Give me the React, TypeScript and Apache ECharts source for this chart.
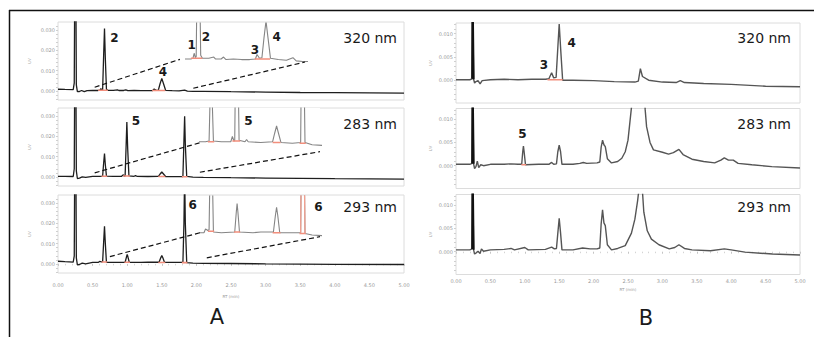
import React, { useEffect, useRef } from "react";
import * as echarts from "echarts";

// ---------- Panel A chromatograms (RT min, UV) ----------
const traceA320: [number, number][] = [
  [0, 0.0008], [0.1, 0.0007], [0.22, 0.0006], [0.235, 0.004], [0.243, 0.06], [0.257, 0.06], [0.265, 0.003],
  [0.28, -0.0004], [0.31, -0.0003], [0.34, 0.0002], [0.38, -0.0004], [0.42, 0.0001], [0.5, 0.0002], [0.58, 0.0002],
  [0.605, 0.0003], [0.62, 0.0011], [0.635, 0.0004], [0.645, 0.0006], [0.66, 0.018], [0.672, 0.0308], [0.684, 0.016],
  [0.7, 0.0008], [0.72, 0.0003], [0.8, 0.0003], [0.86, 0.0005], [0.88, 0.0002], [0.95, 0.0002], [0.98, 0.0005],
  [1.01, 0.0001], [1.1, 0.0002], [1.2, 0.0001], [1.3, 0.0001], [1.37, 0.0002], [1.39, 0.0009], [1.42, 0.0003],
  [1.45, 0.0004], [1.475, 0.0035], [1.5, 0.0062], [1.525, 0.0035], [1.555, 0.0003], [1.65, 0.0001], [1.75, 0.0],
  [1.83, 0.0004], [1.87, -0.0001], [1.95, -0.0002], [2.1, -0.0002], [2.5, -0.0004], [3.0, -0.0006], [3.5, -0.0008],
  [4.0, -0.0009], [4.5, -0.001], [5.0, -0.0011],
];
const traceA283: [number, number][] = [
  [0, 0.0003], [0.1, 0.0003], [0.22, 0.0002], [0.235, 0.004], [0.243, 0.06], [0.257, 0.06], [0.265, 0.003],
  [0.28, -0.0008], [0.31, -0.0006], [0.35, 0.0], [0.4, -0.0002], [0.5, 0.0003], [0.6, 0.0003],
  [0.645, 0.0004], [0.66, 0.007], [0.672, 0.0115], [0.684, 0.006], [0.7, 0.0004], [0.8, 0.0003],
  [0.92, 0.0003], [0.94, 0.001], [0.96, 0.0004], [0.97, 0.0005], [0.985, 0.016], [0.995, 0.0271], [1.007, 0.014],
  [1.025, 0.0005], [1.1, 0.0003], [1.12, 0.0006], [1.14, 0.0003], [1.3, 0.0002],
  [1.45, 0.0003], [1.475, 0.0014], [1.5, 0.0024], [1.525, 0.0014], [1.555, 0.0002], [1.7, 0.0001],
  [1.805, 0.0002], [1.82, 0.018], [1.83, 0.0299], [1.84, 0.016], [1.86, 0.0002],
  [1.95, -0.0001], [2.1, -0.0002], [2.5, -0.0004], [3.0, -0.0006], [4.0, -0.0009], [5.0, -0.0011],
];
const traceA293: [number, number][] = [
  [0, 0.0013], [0.1, 0.0011], [0.22, 0.0009], [0.235, 0.004], [0.243, 0.06], [0.257, 0.06], [0.265, 0.003],
  [0.28, -0.0005], [0.31, -0.0003], [0.35, 0.0004], [0.4, 0.0], [0.5, 0.0007], [0.58, 0.0007],
  [0.6, 0.0012], [0.63, 0.001], [0.645, 0.0011], [0.66, 0.011], [0.672, 0.0185], [0.684, 0.01], [0.7, 0.0008],
  [0.8, 0.0007], [0.97, 0.0008], [0.99, 0.0035], [1.0, 0.0046], [1.01, 0.0035], [1.03, 0.0008],
  [1.2, 0.0007], [1.3, 0.0008], [1.46, 0.0008], [1.485, 0.003], [1.5, 0.0041], [1.515, 0.003], [1.54, 0.0007],
  [1.7, 0.0007], [1.805, 0.0007], [1.82, 0.02], [1.83, 0.045], [1.84, 0.02], [1.86, 0.0006],
  [1.95, 0.0004], [2.1, 0.0003], [2.5, 0.0002], [3.0, 0.0], [4.0, -0.0002], [5.0, -0.0003],
];

// ---------- Panel B chromatograms ----------
const traceB320: [number, number][] = [
  [0, 0.0001], [0.1, 0.0001], [0.2, 0.0001], [0.235, 0.0003], [0.241, 0.02], [0.249, 0.02], [0.256, 0.0002],
  [0.27, -0.0006], [0.29, -0.0003], [0.32, -0.0001], [0.35, -0.0008], [0.38, -0.0001], [0.5, 0.0001],
  [0.7, 0.0002], [0.9, 0.0001], [1.1, 0.0002], [1.3, 0.0002], [1.35, 0.0003], [1.39, 0.0016], [1.42, 0.0005],
  [1.455, 0.0006], [1.48, 0.007], [1.5, 0.0121], [1.52, 0.007], [1.55, 0.0], [1.7, 0.0], [2.0, -0.0001],
  [2.3, -0.0003], [2.6, -0.0004], [2.65, -0.0002], [2.68, 0.0025], [2.71, 0.0008], [2.8, 0.0], [3.0, -0.0004],
  [3.2, -0.0005], [3.26, -0.0001], [3.32, -0.0005], [3.6, -0.0007], [4.0, -0.0009], [4.5, -0.0013], [5.0, -0.0014],
];
const traceB283: [number, number][] = [
  [0, 0.0003], [0.2, 0.0003], [0.235, 0.0005], [0.241, 0.02], [0.249, 0.02], [0.256, 0.0004], [0.27, -0.0006],
  [0.29, -0.0002], [0.31, 0.001], [0.33, -0.0004], [0.36, 0.0002], [0.4, 0.0], [0.5, 0.0003], [0.7, 0.0003],
  [0.8, 0.0004], [0.9, 0.0003], [0.955, 0.0003], [0.97, 0.003], [0.98, 0.0042], [0.99, 0.003], [1.01, 0.0002],
  [1.2, 0.0003], [1.35, 0.0003], [1.39, 0.0007], [1.42, 0.0003], [1.46, 0.0004], [1.48, 0.003], [1.5, 0.0044],
  [1.52, 0.003], [1.54, 0.0003], [1.7, 0.0003], [1.8, 0.0005], [1.85, 0.0007], [1.9, 0.0005], [2.05, 0.0006],
  [2.09, 0.0008], [2.11, 0.004], [2.13, 0.0055], [2.15, 0.0045], [2.17, 0.0041], [2.2, 0.0015], [2.26, 0.0006],
  [2.35, 0.0009], [2.41, 0.0016], [2.46, 0.003], [2.5, 0.0055], [2.55, 0.0125], [2.62, 0.022], [2.68, 0.026],
  [2.72, 0.02], [2.75, 0.012], [2.77, 0.0084], [2.82, 0.005], [2.87, 0.0034], [3.0, 0.0029], [3.09, 0.0025],
  [3.16, 0.0028], [3.24, 0.0035], [3.3, 0.0024], [3.43, 0.0014], [3.6, 0.0009], [3.76, 0.0006], [3.85, 0.0012],
  [3.9, 0.0017], [3.96, 0.0012], [4.03, 0.0012], [4.1, 0.0005], [4.3, 0.0002], [4.59, -0.0002], [5.0, -0.0005],
];
const traceB293: [number, number][] = [
  [0, 0.0004], [0.2, 0.0004], [0.235, 0.0006], [0.241, 0.02], [0.249, 0.02], [0.256, 0.0004], [0.27, -0.0005],
  [0.29, -0.0003], [0.32, 0.0001], [0.35, -0.0004], [0.37, 0.0006], [0.4, 0.0001], [0.5, 0.0004], [0.7, 0.0005],
  [0.8, 0.0007], [0.85, 0.0004], [1.0, 0.0009], [1.05, 0.0004], [1.3, 0.0005], [1.39, 0.001], [1.43, 0.0006],
  [1.46, 0.0007], [1.48, 0.004], [1.5, 0.0072], [1.52, 0.004], [1.54, 0.0004], [1.7, 0.0004], [1.84, 0.0008],
  [1.95, 0.0006], [2.05, 0.0006], [2.09, 0.0008], [2.11, 0.006], [2.13, 0.009], [2.15, 0.0062], [2.17, 0.0056],
  [2.2, 0.0015], [2.26, 0.0004], [2.35, 0.0007], [2.46, 0.0013], [2.55, 0.004], [2.6, 0.007], [2.64, 0.011],
  [2.68, 0.016], [2.71, 0.013], [2.73, 0.0085], [2.78, 0.0045], [2.84, 0.0027], [2.95, 0.0015], [3.1, 0.0006],
  [3.18, 0.0009], [3.24, 0.0015], [3.32, 0.0007], [3.43, 0.0004], [3.7, 0.0002], [3.9, 0.0006], [4.0, 0.0004],
  [4.2, -0.0001], [4.6, -0.0005], [5.0, -0.0007],
];

// integration marks (red): [start RT, end RT, level]
const marksA320 = [[0.58, 0.72, 0.0003], [1.36, 1.55, 0.0002]];
const marksA283 = [[0.63, 0.71, 0.0003], [0.94, 1.04, 0.0004], [1.45, 1.55, 0.0002], [1.79, 1.87, 0.0001]];
const marksA293 = [[0.63, 0.71, 0.0009], [0.96, 1.04, 0.0008], [1.45, 1.55, 0.0007], [1.79, 1.87, 0.0006]];
const marksB320 = [[1.33, 1.55, 0.0001]];
const marksB283 = [[0.95, 1.02, 0.0002]];
// RT window of the highlighted peak 6 in the 293 nm inset, and of the injection spike
const peak6Window = [1.79, 1.87];
const spikeWindow = [0.23, 0.26];

// axis ticks / labels
const yLabelsA = [0, 0.01, 0.02, 0.03];
const yTicksA = [-0.004, -0.002, 0, 0.002, 0.004, 0.006, 0.008, 0.01, 0.012, 0.014, 0.016, 0.018, 0.02, 0.022, 0.024, 0.026, 0.028, 0.03, 0.032];
const yLabelsB = [0, 0.005, 0.01];
const yTicksB = [-0.004, -0.003, -0.002, -0.001, 0, 0.001, 0.002, 0.003, 0.004, 0.005, 0.006, 0.007, 0.008, 0.009, 0.01, 0.011, 0.012];
const wavelengths = ["320 nm", "283 nm", "293 nm"];
const panelLetters = ["A", "B"];

// zoom connectors: main grid point -> inset grid point
const connectors = [
  { g1: 0, p1: [0.53, 0.0018], g2: 6, p2: [0.446, 0.00014] },
  { g1: 0, p1: [1.955, 0.0013], g2: 6, p2: [1.978, -0.00029] },
  { g1: 1, p1: [0.53, 0.002], g2: 7, p2: [0.53, 0.00017] },
  { g1: 1, p1: [2.05, 0.0023], g2: 7, p2: [2.05, -0.00103] },
  { g1: 2, p1: [0.75, 0.0036], g2: 8, p2: [0.53, 0.0007] },
  { g1: 2, p1: [2.15, 0.003], g2: 8, p2: [2.05, 0.00017] },
];

const FONT = "DejaVu Sans";

function markData(segs: number[][]) {
  const out: any[] = [];
  segs.forEach(([a, b, v]) => {
    out.push([a, v], [b, v], [b, "-"]);
  });
  return out;
}
const windowOf = (d: [number, number][], w: number[]) => d.filter((p) => p[0] >= w[0] && p[0] <= w[1]);

export default function App() {
  const ref = useRef<HTMLDivElement>(null);
  useEffect(() => {
    document.body.style.margin = "0";
    const chart = echarts.init(ref.current!, null, { renderer: "svg" });

    const gridsMain = [
      { left: 58, top: 22, width: 346, height: 78 },
      { left: 58, top: 108, width: 346, height: 78 },
      { left: 58, top: 195, width: 346, height: 78 },
      { left: 456, top: 23, width: 344, height: 80 },
      { left: 456, top: 108.5, width: 344, height: 80 },
      { left: 456, top: 194.5, width: 344, height: 80 },
    ].map((g) => ({ ...g, show: true, borderColor: "#dcdcdc", borderWidth: 1, backgroundColor: "#fff" }));
    const gridsInset = [
      { left: 186, top: 23, width: 120, height: 42 },
      { left: 200, top: 108, width: 120, height: 44 },
      { left: 200, top: 196, width: 120, height: 44 },
    ].map((g) => ({ ...g, show: true, borderWidth: 0, backgroundColor: "#fff" }));

    const mkX = (gi: number, showLab: boolean, margin: number, nameGap: number) => ({
      type: "value", gridIndex: gi, min: 0, max: 5, interval: 0.5,
      axisLine: { show: false }, splitLine: { show: false },
      axisTick: { show: showLab, length: 2, lineStyle: { color: "#c4c4c4" } },
      minorTick: { show: showLab, splitNumber: 5, length: 1.5, lineStyle: { color: "#d4d4d4" } },
      axisLabel: { show: showLab, fontSize: 5, color: "#999", margin, fontFamily: FONT, formatter: (v: number) => v.toFixed(2) },
      name: showLab ? "RT (min)" : "", nameLocation: "middle", nameGap,
      nameTextStyle: { fontSize: 4, color: "#999", fontFamily: FONT },
    });
    const mkY = (gi: number, min: number, max: number, labels: number[], ticks: number[], nameGap: number) => ({
      type: "value", gridIndex: gi, min, max,
      axisLine: { show: false }, splitLine: { show: false },
      axisTick: { show: true, customValues: ticks, length: 2, lineStyle: { color: "#cfcfcf" } },
      axisLabel: { customValues: labels, fontSize: 5, color: "#999", margin: 3, fontFamily: FONT, formatter: (v: number) => v.toFixed(3) },
      name: "UV", nameLocation: "middle", nameGap, nameRotate: 90,
      nameTextStyle: { fontSize: 4, color: "#aaa", fontFamily: FONT },
    });
    const mkHidden = (gi: number, min: number, max: number) => ({
      type: "value", gridIndex: gi, min, max, show: false, splitLine: { show: false },
    });

    const xAxis = [
      mkX(0, false, 9, 21), mkX(1, false, 9, 21), mkX(2, true, 9, 21),
      mkX(3, false, 4, 13), mkX(4, false, 4, 13), mkX(5, true, 4, 13),
      mkHidden(6, 0.52, 1.99), mkHidden(7, 0.53, 2.05), mkHidden(8, 0.53, 2.05),
    ];
    const yAxis = [
      mkY(0, -0.0045, 0.034, yLabelsA, yTicksA, 27),
      mkY(1, -0.0045, 0.034, yLabelsA, yTicksA, 27),
      mkY(2, -0.0045, 0.034, yLabelsA, yTicksA, 27),
      mkY(3, -0.0049, 0.0123, yLabelsB, yTicksB, 24),
      mkY(4, -0.0049, 0.0123, yLabelsB, yTicksB, 24),
      mkY(5, -0.0049, 0.0123, yLabelsB, yTicksB, 24),
      mkHidden(6, -0.00076, 0.0059),
      mkHidden(7, -0.00107, 0.0048),
      mkHidden(8, -0.00027, 0.0056),
    ];

    const line = (idx: number, data: any[], color: string, width: number, z = 3) => ({
      type: "line", xAxisIndex: idx, yAxisIndex: idx, data, symbol: "none", showSymbol: false,
      lineStyle: { color, width }, z, clip: true, silent: true,
    });
    const mainA = [traceA320, traceA283, traceA293];
    const mainB = [traceB320, traceB283, traceB293];
    const marksA = [marksA320, marksA283, marksA293];
    const marksB = [marksB320, marksB283, []];
    const red = "#f28e7c";

    const series: any[] = [
      ...mainA.map((d, i) => line(i, d, "#1e1e1e", 1.3)),
      ...mainB.map((d, i) => line(3 + i, d, "#555555", 1.4)),
      ...mainB.map((d, i) => line(3 + i, windowOf(d, spikeWindow), "#111111", 2, 4)),
      ...mainA.map((d, i) => line(6 + i, d, "#858585", 1.1)),
      ...marksA.map((m, i) => line(i, markData(m), red, 1.6, 4)),
      ...marksB.map((m, i) => line(3 + i, markData(m), red, 1.4, 4)),
      ...marksA.map((m, i) => line(6 + i, markData(m), red, 1.4, 4)),
      line(8, windowOf(traceA293, peak6Window), "#f2a090", 1.3, 5),
    ];

    chart.setOption({
      animation: false,
      grid: [...gridsMain, ...gridsInset],
      xAxis, yAxis, series,
    });

    const txt = (x: number, y: number, text: string, size: number, weight: string = "normal", align = "center") => ({
      type: "text", x, y, z: 50,
      style: { text, fontSize: size, fontFamily: FONT, fontWeight: weight, fill: "#1a1a1a", align, verticalAlign: "middle" },
    });

    const graphics: any[] = [
      { type: "line", shape: { x1: 9, y1: 10.5, x2: 814, y2: 10.5 }, style: { stroke: "#111", lineWidth: 1.5 }, z: 60 },
      { type: "line", shape: { x1: 9.5, y1: 10, x2: 9.5, y2: 337 }, style: { stroke: "#111", lineWidth: 1.5 }, z: 60 },
      txt(397, 38, wavelengths[0], 14, "normal", "right"),
      txt(397, 124, wavelengths[1], 14, "normal", "right"),
      txt(397, 207, wavelengths[2], 14, "normal", "right"),
      txt(791, 38, wavelengths[0], 14, "normal", "right"),
      txt(791, 124, wavelengths[1], 14, "normal", "right"),
      txt(791, 207, wavelengths[2], 14, "normal", "right"),
      txt(217, 317, panelLetters[0], 21),
      txt(646, 318, panelLetters[1], 21),
      // peak labels
      txt(114.5, 37.5, "2", 12, "bold"), txt(163, 72, "4", 12, "bold"),
      txt(191.7, 45, "1", 12, "bold"), txt(206, 36.7, "2", 12, "bold"),
      txt(255, 50, "3", 12, "bold"), txt(276.7, 36.7, "4", 12, "bold"),
      txt(136, 120.7, "5", 12, "bold"), txt(248.3, 120.7, "5", 12, "bold"),
      txt(192.7, 205, "6", 12, "bold"), txt(318.3, 206.7, "6", 12, "bold"),
      txt(544, 65, "3", 12, "bold"), txt(571.7, 43.3, "4", 12, "bold"),
      txt(522.3, 134.3, "5", 12, "bold"),
    ];
    connectors.forEach((c) => {
      const a = chart.convertToPixel({ gridIndex: c.g1 } as any, c.p1) as number[];
      const b = chart.convertToPixel({ gridIndex: c.g2 } as any, c.p2) as number[];
      if (a && b) {
        graphics.push({
          type: "line", z: 55,
          shape: { x1: a[0], y1: a[1], x2: b[0], y2: b[1] },
          style: { stroke: "#111", lineWidth: 1.2, lineDash: [5, 3] },
        });
      }
    });
    chart.setOption({ graphic: graphics });

    return () => chart.dispose();
  }, []);
  return <div ref={ref} style={{ width: 814, height: 337 }} />;
}
